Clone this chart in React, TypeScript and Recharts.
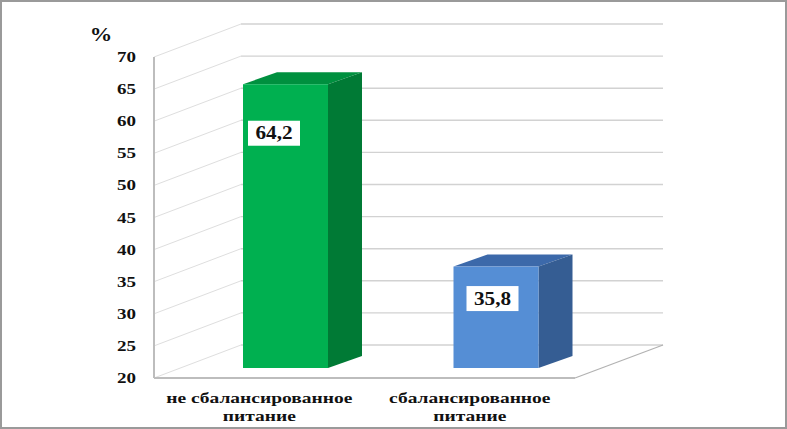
import React from 'react';
import { BarChart, Bar, XAxis, YAxis, CartesianGrid } from 'recharts';

// ---- data ----
const categories = ['не сбалансированное питание', 'сбалансированное питание'];
const percentValues = [64.2, 35.8];
const valueLabels = ['64,2', '35,8'];
const yTicks = [20, 25, 30, 35, 40, 45, 50, 55, 60, 65, 70];
const yDomain = [20, 70];
const unitLabel = '%';

const data = categories.map((name, i) => ({ name, value: percentValues[i], label: valueLabels[i] }));

// ---- layout / style ----
const W = 787;
const H = 429;
const PLOT_LEFT = 154;
const PLOT_TOP = 57;
const PLOT_RIGHT = 575;
const PLOT_BOTTOM = 378;
const YAXIS_W = 60;
const XAXIS_H = 40;
const WALL_DX = 87;
const WALL_DY = -33;
const FACE_DX = 26;
const FACE_DY = -10;
const SIDE_DX = 34;
const SIDE_DY = -12;
const FONT = 'Liberation Serif';

const PALETTE = [
  { front: '#00b050', side: '#007a35', top: '#00903f' },
  { front: '#558ed5', side: '#355d93', top: '#3c69aa' },
];
const LABEL_OFFSETS = [
  { dx: 31, dy: 49 },
  { dx: 39, dy: 32 },
];

const renderGridLine = (p: any) => {
  const { x1, y1, x2 } = p;
  const isFloor = Math.abs(y1 - PLOT_BOTTOM) < 0.6;
  return (
    <g key={`grid-${y1}`}>
      <line x1={x1} y1={y1} x2={x1 + WALL_DX} y2={y1 + WALL_DY} stroke="#dedede" strokeWidth={1} />
      <line x1={x1 + WALL_DX} y1={y1 + WALL_DY} x2={x2 + WALL_DX + 1} y2={y1 + WALL_DY} stroke="#d2d2d2" strokeWidth={1.4} />
      {isFloor && (
        <line x1={x2} y1={y1} x2={x2 + WALL_DX + 1} y2={y1 + WALL_DY} stroke="#b2b2b2" strokeWidth={1.3} />
      )}
    </g>
  );
};

const renderYTick = (p: any) => {
  const x = PLOT_LEFT - 18;
  return (
    <text
      key={`yt-${p.payload.value}`}
      x={x}
      y={p.y}
      dy={5}
      textAnchor="end"
      fontFamily={FONT}
      fontWeight="bold"
      fontSize={15}
      fill="#111"
      textLength={19}
      lengthAdjust="spacingAndGlyphs"
    >
      {p.payload.value}
    </text>
  );
};

const renderXTick = (p: any) => {
  const s = String(p.payload.value);
  const cut = s.lastIndexOf(' ');
  const lines = [s.slice(0, cut), s.slice(cut + 1)];
  return (
    <g key={`xt-${s}`}>
      {lines.map((ln, i) => (
        <g key={i} transform={`translate(${p.x},${PLOT_BOTTOM + 25 + i * 18}) scale(1.3,1)`}>
          <text x={0} y={0} textAnchor="middle" fontFamily={FONT} fontWeight="bold" fontSize={15} fill="#111">
            {ln}
          </text>
        </g>
      ))}
    </g>
  );
};

const Bar3D = (p: any) => {
  const { x, y, width, height, index } = p;
  const c = PALETTE[index % PALETTE.length];
  const fx = x + FACE_DX;
  const fy = y + FACE_DY;
  const off = LABEL_OFFSETS[index % LABEL_OFFSETS.length];
  const label = p.payload && p.payload.label;
  const cx = fx + off.dx;
  const cy = fy + off.dy;
  return (
    <g>
      <polygon
        points={`${fx},${fy} ${fx + SIDE_DX},${fy + SIDE_DY} ${fx + width + SIDE_DX},${fy + SIDE_DY} ${fx + width},${fy}`}
        fill={c.top}
      />
      <polygon
        points={`${fx + width},${fy} ${fx + width + SIDE_DX},${fy + SIDE_DY} ${fx + width + SIDE_DX},${fy + height + SIDE_DY} ${fx + width},${fy + height}`}
        fill={c.side}
      />
      <rect x={fx} y={fy} width={width} height={height} fill={c.front} />
      <rect x={cx - 26} y={cy - 12.5} width={52} height={25} fill="#ffffff" />
      <g transform={`translate(${cx},${cy}) scale(1.18,1)`}>
        <text x={0} y={0} dy={6} textAnchor="middle" fontFamily={FONT} fontWeight="bold" fontSize={18} fill="#111">
          {label}
        </text>
      </g>
    </g>
  );
};

const PercentLabel = () => (
  <g transform={`translate(101,41) scale(1.25,1)`}>
    <text x={0} y={0} textAnchor="middle" fontFamily={FONT} fontWeight="bold" fontSize={18} fill="#111">
      {unitLabel}
    </text>
  </g>
);

export default function App() {
  return (
    <div style={{ position: 'absolute', left: 0, top: 0, width: W, height: H, background: '#fff' }}>
      <BarChart
        width={W}
        height={H}
        data={data}
        margin={{ top: PLOT_TOP, right: W - PLOT_RIGHT, bottom: H - PLOT_BOTTOM - XAXIS_H, left: PLOT_LEFT - YAXIS_W }}
        barSize={85}
      >
        <CartesianGrid horizontal={renderGridLine} vertical={false} />
        <XAxis
          dataKey="name"
          height={XAXIS_H}
          axisLine={{ stroke: '#bdbdbd', strokeWidth: 2 }}
          tickLine={false}
          tick={renderXTick}
          interval={0}
        />
        <YAxis
          type="number"
          domain={yDomain}
          ticks={yTicks}
          interval={0}
          width={YAXIS_W}
          axisLine={{ stroke: '#bdbdbd', strokeWidth: 2 }}
          tickLine={false}
          tick={renderYTick}
          allowDataOverflow
          label={<PercentLabel />}
        />
        <Bar dataKey="value" isAnimationActive={false} shape={<Bar3D />} />
      </BarChart>
      <div
        style={{
          position: 'absolute',
          left: 0,
          top: 0,
          width: W,
          height: H,
          boxSizing: 'border-box',
          border: '2px solid #9a9a9a',
          pointerEvents: 'none',
        }}
      />
    </div>
  );
}
